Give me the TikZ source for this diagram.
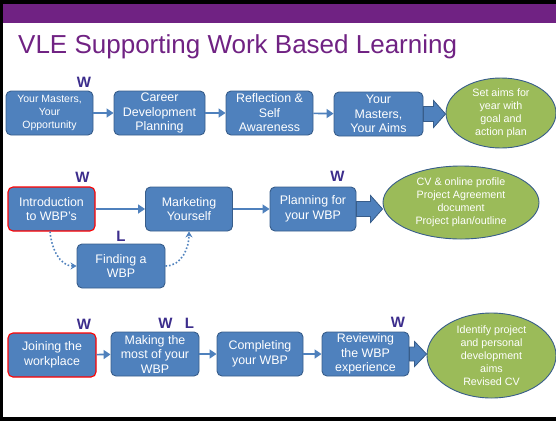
\documentclass[tikz,border=0pt]{standalone}
\usepackage{fontspec}
\setmainfont{Liberation Sans}
\usetikzlibrary{arrows.meta,calc,shapes.geometric}
\definecolor{boxblue}{HTML}{4F81BD}
\definecolor{boxedge}{HTML}{385D8A}
\definecolor{leafgreen}{HTML}{9BBB59}
\definecolor{barpurple}{HTML}{702283}
\definecolor{tagcol}{RGB}{60,45,140}
\definecolor{redge}{HTML}{FF0000}
\newcommand\blkarrow[4]{%
  \path[blockarrow] let \p1=(#1.east), \p2=(#2.west) in
   (\x1,{\y1+#3pt}) -- ({\x2-12pt},{\y1+#3pt}) -- ({\x2-12pt},{\y1+#4pt}) --
   (\x2,\y1) -- ({\x2-12pt},{\y1-#4pt}) -- ({\x2-12pt},{\y1-#3pt}) --
   (\x1,{\y1-#3pt}) -- cycle;}
\begin{document}
\begin{tikzpicture}[x=1pt,y=-1pt,
 stepbox/.style={draw=boxedge,fill=boxblue,line width=0.9pt,rounded corners=5pt,text=white,align=center,inner sep=1pt,minimum height=44pt,font=\fontsize{12.4}{14.5}\selectfont},
 redbox/.style={stepbox,draw=redge,line width=1.1pt},
 goal/.style={ellipse,draw=boxedge,fill=leafgreen,line width=0.9pt,text=white,align=center,inner sep=0pt,font=\fontsize{10.7}{13}\selectfont},
 flow/.style={draw=boxblue,line width=1.6pt,-{Triangle[length=7pt,width=9pt]}},
 dotflow/.style={draw=boxblue,line width=1.6pt,dotted,-{Stealth[length=6pt,width=7pt]}},
 tag/.style={text=tagcol,font=\fontsize{15}{15}\selectfont\bfseries,inner sep=0pt},
 blockarrow/.style={fill=boxblue,draw=boxedge,line width=0.8pt},
]
\useasboundingbox (0,0) rectangle (556,421);
% frame and header bar
\fill[black] (0,0) rectangle (556,4);
\fill[black] (0,0) rectangle (3,421);
\fill[black] (0,417) rectangle (556,421);
\fill[barpurple] (3,4) rectangle (556,23);
\node[anchor=base west,text=barpurple,font=\fontsize{26}{30}\selectfont,inner sep=0pt] (title) at (18,53) {VLE Supporting Work Based Learning};

% row 1
\node[stepbox,minimum width=87pt,font=\fontsize{10.5}{13}\selectfont] (b1) at (49.5,113) {Your Masters,\\Your\\Opportunity};
\node[stepbox,minimum width=91pt] (b2) at (159.5,113) {Career\\Development\\Planning};
\node[stepbox,minimum width=87pt] (b3) at (269.5,113) {Reflection \&\\Self\\Awareness};
\node[stepbox,minimum width=89pt] (b4) at (378.5,114) {Your\\Masters,\\Your Aims};
\node[goal,minimum width=110pt,minimum height=70pt] (e1) at (501,113) {Set aims for\\year with\\goal and\\action plan};
\draw[flow] (b1) -- (b2);
\draw[flow] (b2) -- (b3);
\draw[flow] (b3) -- (b4);
\blkarrow{b4}{e1}{7.5}{13.5}
\node[tag] (w1) at (84,82.5) {W};

% row 2
\node[redbox,minimum width=87pt] (intro) at (51.5,209) {Introduction\\to WBP’s};
\node[stepbox,minimum width=87pt] (mkt) at (189,209) {Marketing\\Yourself};
\node[stepbox,minimum width=88pt] (find) at (121,266) {Finding a\\WBP};
\node[stepbox,minimum width=86pt] (plan) at (313,209) {Planning for\\your WBP};
\node[goal,minimum width=156pt,minimum height=73pt] (e2) at (461,202.5) {CV \& online profile\\Project Agreement\\document\\Project plan/outline};
\draw[flow] (intro) -- (mkt);
\draw[flow] (mkt) -- (plan);
\draw[dotflow] ($(intro.south)+(-1.5,0)$) to[out=-85,in=180] (find.west);
\draw[dotflow] (find.east) to[out=0,in=-90] (mkt.south);
\blkarrow{plan}{e2}{7.5}{13.5}
\node[tag] (w2) at (82.5,177) {W};
\node[tag] (l2) at (121,236.5) {L};
\node[tag] (w3) at (337.5,176.5) {W};

% row 3
\node[redbox,minimum width=88pt] (join) at (52,355) {Joining the\\workplace};
\node[stepbox,minimum width=88pt] (make) at (155,354) {Making the\\most of your\\WBP};
\node[stepbox,minimum width=86pt] (comp) at (260,354) {Completing\\your WBP};
\node[stepbox,minimum width=87pt] (rev) at (365.5,354) {Reviewing\\the WBP\\experience};
\node[goal,minimum width=129pt,minimum height=85pt] (e3) at (491.5,355.5) {Identify project\\and personal\\development\\aims\\Revised CV};
\draw[flow] (join) -- (make);
\draw[flow] (make) -- (comp);
\draw[flow] (comp) -- (rev);
\blkarrow{rev}{e3}{7}{12.5}
\node[tag] (w4) at (84,324) {W};
\node[tag] (w5) at (165.5,323) {W};
\node[tag] (l5) at (189.5,323) {L};
\node[tag] (w6) at (398,322.5) {W};
\end{tikzpicture}
\end{document}
